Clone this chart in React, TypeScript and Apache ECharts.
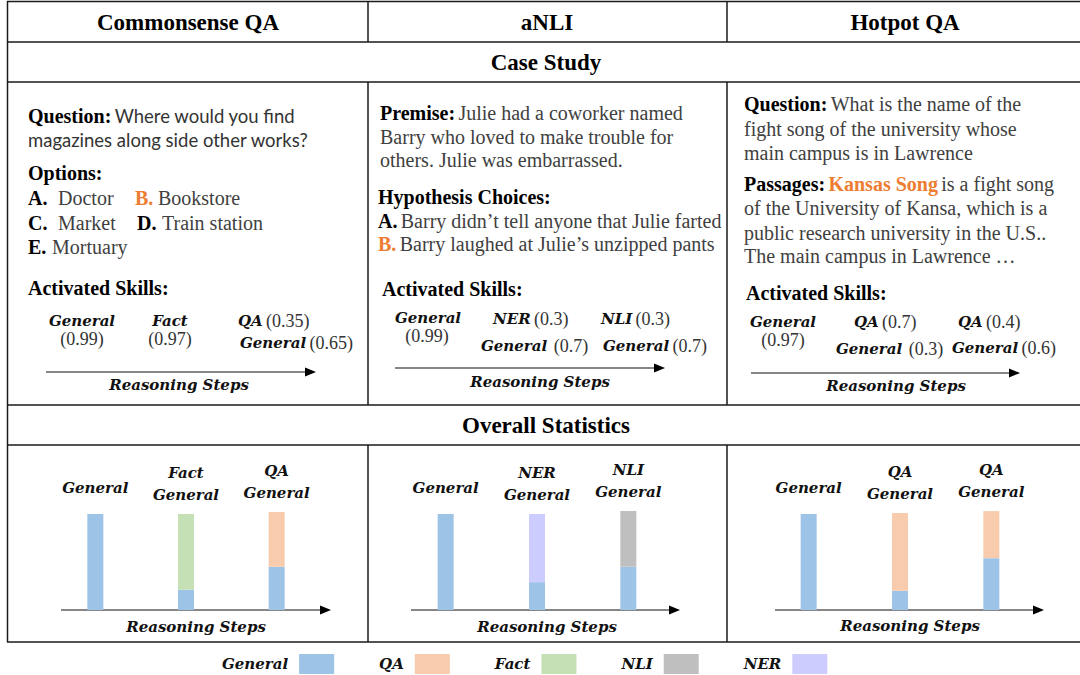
import React, { useEffect, useRef } from 'react';
import * as echarts from 'echarts';

// ---------- data ----------
const steps = ['Step 1', 'Step 2', 'Step 3'];
const skillNames = ['General', 'QA', 'Fact', 'NLI', 'NER'];
const skillColors = ['#9DC3E6', '#F8CBAD', '#C5E0B4', '#BFBFBF', '#CCCCFF'];

const csqaGeneral = [1.0, 0.21, 0.45];
const csqaFact = [0, 0.79, 0];
const csqaQA = [0, 0, 0.57];
const csqaLabels = ['General', 'Fact\nGeneral', 'QA\nGeneral'];

const anliGeneral = [1.0, 0.29, 0.45];
const anliNER = [0, 0.71, 0];
const anliNLI = [0, 0, 0.58];
const anliLabels = ['General', 'NER\nGeneral', 'NLI\nGeneral'];

const hotpotGeneral = [1.0, 0.2, 0.54];
const hotpotQA = [0, 0.81, 0.49];
const hotpotLabels = ['General', 'QA\nGeneral', 'QA\nGeneral'];

const columnTitles = ['Commonsense QA', 'aNLI', 'Hotpot QA'];

// ---------- styles ----------
const SERIF = "'Liberation Serif', 'Times New Roman', serif";
const SANS = "Lato, 'Open Sans', sans-serif";
const MATH = "'DejaVu Serif', serif";
const LINE = '#1a1a1a';

const rich: any = {
  b: { fontFamily: SERIF, fontWeight: 'bold', fontSize: 20, fill: '#000', color: '#000' },
  h: { fontFamily: SERIF, fontWeight: 'bold', fontSize: 23, fill: '#000', color: '#000' },
  r: { fontFamily: SERIF, fontSize: 20, fill: '#404040', color: '#404040' },
  s: { fontFamily: SANS, fontSize: 18.5, fill: '#333', color: '#333' },
  o: { fontFamily: SERIF, fontWeight: 'bold', fontSize: 20, fill: '#ED7D31', color: '#ED7D31' },
  k: { fontFamily: MATH, fontWeight: 'bold', fontStyle: 'italic', fontSize: 15, fill: '#111', color: '#111' },
  n: { fontFamily: SERIF, fontSize: 18, fill: '#333', color: '#333' },
};

function txt(x: number, y: number, text: string, align: string = 'left') {
  return {
    type: 'text',
    x,
    y,
    silent: true,
    style: {
      text,
      rich,
      align,
      verticalAlign: 'middle',
      textAlign: align,
      textVerticalAlign: 'middle',
    },
  };
}

function line(x1: number, y1: number, x2: number, y2: number, w = 1.5, c = LINE) {
  return { type: 'line', silent: true, shape: { x1, y1, x2, y2 }, style: { stroke: c, lineWidth: w } };
}

function arrow(x1: number, x2: number, y: number) {
  return [
    line(x1, y, x2 - 8, y, 1.2, '#111'),
    {
      type: 'polygon',
      silent: true,
      shape: { points: [[x2, y], [x2 - 11, y - 4.5], [x2 - 11, y + 4.5]] },
      style: { fill: '#000' },
    },
  ];
}

const panels = [
  { stacks: [['General', csqaGeneral], ['Fact', csqaFact], ['QA', csqaQA]], labels: csqaLabels, left: 50, width: 272 },
  { stacks: [['General', anliGeneral], ['NER', anliNER], ['NLI', anliNLI]], labels: anliLabels, left: 400, width: 274 },
  { stacks: [['General', hotpotGeneral], ['QA', hotpotQA]], labels: hotpotLabels, left: 763, width: 274 },
];

function buildOption() {
  const grids: any[] = [];
  const xAxes: any[] = [];
  const yAxes: any[] = [];
  const series: any[] = [];
  const yMax = 1.2;
  const unit = 96;
  panels.forEach((p, pi) => {
    grids.push({ left: p.left, width: p.width, top: 610 - yMax * unit, height: yMax * unit });
    xAxes.push({
      type: 'category',
      gridIndex: pi,
      data: steps,
      axisLine: { show: false },
      axisTick: { show: false },
      axisLabel: { show: false },
    });
    yAxes.push({ type: 'value', gridIndex: pi, min: 0, max: yMax, show: false, splitLine: { show: false } });
    const topIdx = steps.map((_, i) => {
      let t = 0;
      p.stacks.forEach((s: any, k: number) => {
        if (s[1][i] > 0) t = k;
      });
      return t;
    });
    p.stacks.forEach((s: any, k: number) => {
      const name = s[0] as string;
      const vals = s[1] as number[];
      series.push({
        type: 'bar',
        name,
        xAxisIndex: pi,
        yAxisIndex: pi,
        stack: 'p' + pi,
        barWidth: 16,
        silent: true,
        itemStyle: { color: skillColors[skillNames.indexOf(name)] },
        label: {
          show: false,
          fontFamily: MATH,
          fontWeight: 'bold',
          fontStyle: 'italic',
          fontSize: 15,
          color: '#111',
          lineHeight: 22,
        },
        data: vals.map((v, i) => {
          const item: any = { value: v };
          if (topIdx[i] === k) {
            const lab = p.labels[i];
            item.label = {
              show: true,
              position: 'top',
              formatter: lab,
              distance: lab.indexOf('\n') >= 0 ? 8 : 15,
            };
          }
          return item;
        }),
      });
    });
  });

  const g: any[] = [];
  // table lines
  g.push(line(7.5, 1, 7.5, 642));
  [1.5, 42, 82, 405, 445, 642].forEach((y) => g.push(line(7, y, 1080, y)));
  [368, 727].forEach((x) => {
    g.push(line(x, 1, x, 42));
    g.push(line(x, 82, x, 405));
    g.push(line(x, 445, x, 642));
  });
  // headers
  g.push(txt(188, 22, `{h|${columnTitles[0]}}`, 'center'));
  g.push(txt(547, 22, `{h|${columnTitles[1]}}`, 'center'));
  g.push(txt(905, 22, `{h|${columnTitles[2]}}`, 'center'));
  g.push(txt(546, 62, '{h|Case Study}', 'center'));
  g.push(txt(546, 425, '{h|Overall Statistics}', 'center'));

  // cell 1
  g.push(txt(28, 116, '{b|Question:} {s|Where would you find}'));
  g.push(txt(28, 140, '{s|magazines along side other works?}'));
  g.push(txt(28, 173, '{b|Options:}'));
  g.push(txt(28, 198, '{b|A.}'));
  g.push(txt(58, 198, '{r|Doctor}'));
  g.push(txt(135, 198, '{o|B.}'));
  g.push(txt(158, 198, '{r|Bookstore}'));
  g.push(txt(28, 223, '{b|C.}'));
  g.push(txt(58, 223, '{r|Market}'));
  g.push(txt(137, 223, '{b|D.}'));
  g.push(txt(162, 223, '{r|Train station}'));
  g.push(txt(28, 247, '{b|E.}'));
  g.push(txt(52, 247, '{r|Mortuary}'));
  g.push(txt(28, 288, '{b|Activated Skills:}'));
  g.push(txt(82, 321, '{k|General}', 'center'));
  g.push(txt(82, 339, '{n|(0.99)}', 'center'));
  g.push(txt(170, 321, '{k|Fact}', 'center'));
  g.push(txt(170, 339, '{n|(0.97)}', 'center'));
  g.push(txt(238, 321, '{k|QA} {n|(0.35)}'));
  g.push(txt(240, 343, '{k|General} {n|(0.65)}'));
  g.push(...arrow(46, 316, 372));
  g.push(txt(179, 385, '{k|Reasoning Steps}', 'center'));

  // cell 2
  g.push(txt(380, 113, '{b|Premise:} {r|Julie had a coworker named}'));
  g.push(txt(380, 137, '{r|Barry who loved to make trouble for}'));
  g.push(txt(380, 160, '{r|others. Julie was embarrassed.}'));
  g.push(txt(378, 197, '{b|Hypothesis Choices:}'));
  g.push(txt(378, 221, '{b|A.} {r|Barry didn\u2019t tell anyone that Julie farted}'));
  g.push(txt(378, 244, '{o|B.} {r|Barry laughed at Julie\u2019s unzipped pants}'));
  g.push(txt(382, 289, '{b|Activated Skills:}'));
  g.push(txt(428, 318, '{k|General}', 'center'));
  g.push(txt(427, 336, '{n|(0.99)}', 'center'));
  g.push(txt(493, 319, '{k|NER} {n|(0.3)}'));
  g.push(txt(601, 319, '{k|NLI} {n|(0.3)}'));
  g.push(txt(481, 346, '{k|General}  {n|(0.7)}'));
  g.push(txt(603, 346, '{k|General} {n|(0.7)}'));
  g.push(...arrow(395, 665, 368));
  g.push(txt(540, 382, '{k|Reasoning Steps}', 'center'));

  // cell 3
  g.push(txt(744, 104, '{b|Question:} {r|What is the name of the}'));
  g.push(txt(744, 129, '{r|fight song of the university whose}'));
  g.push(txt(744, 153, '{r|main campus is in Lawrence}'));
  g.push(txt(744, 184, '{b|Passages:} {o|Kansas Song} {r|is a fight song}'));
  g.push(txt(744, 208, '{r|of the University of Kansa, which is a}'));
  g.push(txt(744, 233, '{r|public research university in the U.S..}'));
  g.push(txt(744, 256, '{r|The main campus in Lawrence \u2026}'));
  g.push(txt(746, 293, '{b|Activated Skills:}'));
  g.push(txt(783, 322, '{k|General}', 'center'));
  g.push(txt(783, 340, '{n|(0.97)}', 'center'));
  g.push(txt(854, 322, '{k|QA} {n|(0.7)}'));
  g.push(txt(958, 322, '{k|QA} {n|(0.4)}'));
  g.push(txt(836, 349, '{k|General}  {n|(0.3)}'));
  g.push(txt(952, 348, '{k|General} {n|(0.6)}'));
  g.push(...arrow(751, 1020, 373));
  g.push(txt(896, 386, '{k|Reasoning Steps}', 'center'));

  // bottom panels axes
  g.push(...arrow(61, 331, 610));
  g.push(...arrow(411, 680, 610));
  g.push(...arrow(775, 1044, 610));
  g.push(txt(196, 627, '{k|Reasoning Steps}', 'center'));
  g.push(txt(547, 627, '{k|Reasoning Steps}', 'center'));
  g.push(txt(910, 626, '{k|Reasoning Steps}', 'center'));

  return {
    animation: false,
    backgroundColor: '#fff',
    grid: grids,
    xAxis: xAxes,
    yAxis: yAxes,
    legend: {
      data: skillNames,
      left: 222,
      top: 654,
      padding: 0,
      itemWidth: 35,
      itemHeight: 20,
      itemGap: 45,
      align: 'right',
      icon: 'rect',
      selectedMode: false,
      textStyle: {
        fontFamily: MATH,
        fontWeight: 'bold',
        fontStyle: 'italic',
        fontSize: 15,
        color: '#111',
        padding: [0, 6, 0, 0],
      },
    },
    series,
    graphic: { elements: g },
  };
}

export default function App() {
  const ref = useRef<HTMLDivElement>(null);
  useEffect(() => {
    if (!ref.current) return;
    const chart = echarts.init(ref.current, undefined, { renderer: 'svg' });
    chart.setOption(buildOption() as any);
    return () => chart.dispose();
  }, []);
  return (
    <div
      ref={ref}
      style={{ position: 'fixed', left: 0, top: 0, width: 1080, height: 675, background: '#fff' }}
    />
  );
}
